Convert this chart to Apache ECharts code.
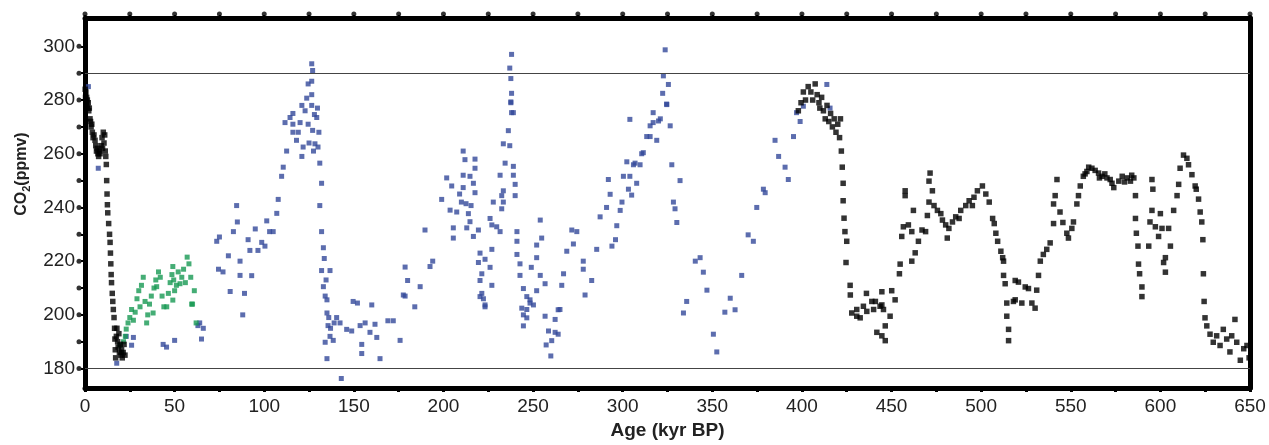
<!DOCTYPE html>
<html>
<head>
<meta charset="utf-8">
<script src="https://cdn.jsdelivr.net/npm/echarts/dist/echarts.min.js"></script>
<style>
html,body{margin:0;padding:0;background:#fff;}
#chart{width:1269px;height:445px;}
</style>
</head>
<body>
<div id="chart"></div>
<script>
// ---- data (age kyr BP, CO2 ppmv) ----
const lawDome = [[0.1,284],[0.3,281],[0.5,283],[0.7,279],[0.9,281],[1.1,278],[1.3,280],[1.5,277],[1.8,279],[2.1,276],[2.4,277],[2.8,273],[3.1,272],[3.4,270],[3.8,271],[4.1,268],[4.5,266],[5.0,267],[5.6,265],[6.0,263],[6.4,261],[6.8,262],[7.2,260],[7.6,259],[8.0,261],[8.4,260],[9.0,263],[9.5,266],[9.8,262],[10.2,268],[10.6,264],[11.0,267],[11.3,261],[11.6,259],[11.9,256],[12.1,250],[12.3,245],[12.5,241],[12.7,238],[13.2,234],[13.7,230],[14.0,227],[14.2,223],[14.4,219],[14.6,215],[14.8,212],[15.2,208],[15.5,205],[15.8,202],[16.2,199],[16.5,195],[16.7,191],[16.9,187],[17.1,184],[17.5,192],[17.8,195],[18.2,190],[18.5,188],[18.9,193],[19.2,186],[19.6,189],[20.0,185],[20.4,187],[20.8,184],[21.3,186],[21.8,189],[22.3,185]];

const greenSeries = [[19.5,188.7],[20.5,186],[21.5,190],[22.5,192],[23,194.7],[24,197],[25,199],[26,202],[27,198],[28,201],[29,206],[30,209],[30.7,203],[31.5,211],[32.5,214],[33.5,205],[34.4,197],[35,200],[36,204],[37,207],[38,200.7],[38.5,210],[39.5,213],[40,210.5],[41,216],[42,214],[43,207],[44,203],[45.6,203],[46.5,208],[47.5,212],[48.5,215],[49,218],[49.5,213],[49,205.5],[50,209],[51,211],[52,216],[53,211.6],[54,214],[55,217],[56,212],[57,221.5],[58,219],[59,214],[59.5,204],[60,204],[61,209],[62,197]];

const vostok = [[1.9,285],[7.4,254.6],[17.7,182],[23,192],[26,188.7],[27,191.6],[43.6,189],[45.5,188],[50,190.5],[63,196],[64,197],[65,191],[66,195],
[73.5,227.4],[75,229],[74.5,217],[77,216],[80,222],[81,208.7],[82.8,231],[84.6,240.7],[85,234.6],[86.5,220],[86.5,214.7],[88,200],[89,208],[91,228],[92,224],[93,214.6],[95,232],[96.5,224],[98.6,227],[100.4,225.6],[101.4,235],[103,231],[105,231],[107,237.8],[107.8,243],[109.7,251.6],[110.6,255],[112.5,261],[111.6,271.6],[114.4,273.5],[116,271],[116,268],[118,265],[120,271.6],[121,259],[121.7,262.5],[122.8,276],[124.5,271],[126.5,278],[127,268.7],[128.3,263.7],[129.3,273.5],[130,262.5],[131,256.5],[132,249],[131,240.7],[132,231],[133,225],[132,216.5],[136.7,216.5],[133,210.5],[135,205.6],
[126.5,293.5],[127,291],[126.5,287],[124.5,286],[126.5,282],[123.7,280.7],[121,278],[116,275],[128,274.6],[119,268],[125,264],[127.5,261],[129.7,277],[130.5,268],
[134,207],[135,200.7],[135.6,196],[136.7,192],[134,189.8],[138.5,190.5],[135,183.7],[140.4,199],[142.3,197],[146,194.6],[148.8,194],[149.6,205],[152,204.4],[153.5,196],[154.4,189],[154.4,185.6],[156.3,197],[159,193.5],[160,203.7],[161.8,196.5],[162.8,191.6],[164.6,183.7],[169,197.8],[172,197.8],[175.8,190.5],[178.6,207],[184,203],[143,176.3],[133.5,221],[134.5,213],[136,199],[137,195],[139,197],
[178.6,217.8],[180,212.8],[177.6,207.4],[187,210.5],[189.7,231.6],[192.5,218],[194,220],
[201.8,251],[204.6,248],[199,243],[203.7,239],[207.4,238.3],[211,261],[212,257.8],[217.6,258],[217.6,254.6],[211,252],[214.8,251.6],[211,247.4],[209,245],[210,242],[212.6,241.4],[215.4,240.7],[213.9,237.7],[214.8,234.7],[213,232.4],[205.5,232.4],[205.5,228.6],[216.7,229.2],[219.5,231.6],[217.6,245.5],[216.7,249],
[226,235.9],[227,233.5],[229.7,232.8],[231.6,231],[227.8,242],[232.5,244.4],[233.4,246.2],[231.6,252],[234.4,256.5],[233.4,263.7],[237,263],[236.2,268.6],[238,275.3],[237.6,279.3],[239,255.3],[239,252],[240,248.6],[240,244.4],[233.4,242],[232.5,239.5],
[220.4,223],[219.5,219.5],[223.2,220.7],[227,224.4],[221.4,215.3],[220.4,212.8],[227,211],[221.4,208],[222.3,206],[223.2,203.7],[226,217.7],
[241,231],[241,227.4],[241,222.5],[242.7,219],[242.7,214.7],[244.6,209.8],[249,217.7],[252,221.3],[252,226],[254.8,228.6],[254,235.3],[254,214.7],[252,209],[256.7,211.6],[246.5,206.8],[248.3,204.4],[246.5,202],
[265,202],[266,211],[267,215.3],[268.8,223.7],[272.5,226.4],[271.6,231.6],[274.4,231],[278,220],[278,217],[279,207.4],[282.7,212.8],[285.5,224.4],[287.4,236.5],[291,240],[294,225.6],[296,228],[296.7,233.2],[298.6,238.9],[299.6,242],[293,244.9],[292,250.4],[300.4,251.6],[304,251.6],[302.3,257],[306,255.9],[306.9,256.5],[309.7,255.9],[307.8,249],[303.2,246.8],[305,244.6],[310.6,260],[311.5,260.4],[313.4,266.4],[315.3,266.4],[319,265],[315.3,270.4],[317,271.6],[320,272.2],[321,273],[317,275.3],[324.5,278.5],[326.5,270.4],[304,272.8],
[327.4,255.9],[332,250],[328.3,242],[329.2,239.5],[330.2,234.4],
[238,297],[237,291.9],[237.6,288],[238,282.5],[237.6,279],[239,275.3],[323.7,298.7],[322.7,289],[325.5,285.8],[322.3,282.5],[324.6,278.3],
[220.4,206.8],[223.2,203],[243.7,202.5],[244.6,200],[246.5,198.9],[244.6,195.9],[248.3,205.6],[250.2,203.7],[256.7,199.5],[262.3,198.3],[264,201.9],[258.6,194],[262.3,193.5],[264,192.8],[260.4,190.4],[257.3,188.8],[259.9,184.7],[335.7,205],[333.9,200.7],[350.6,192.8],[352.5,186.2],[357,201],[362.7,201.9],[360,206.2],
[340.5,220],[343.2,221.3],[345,215.9],[347,209.2],[366.4,214.7],[370,229.8],[372.9,227.4],[374.8,240],[378.5,246.8],[379.5,245.5],[385,265],[387,259],[390.6,255],[392.4,250.4],[395.3,266.4],[397,275.3],[400.8,277.7],[415.7,277],[413.9,285.8],[399,272]];

const epica = [[398,276],[399.5,279],[400.8,283],[402,280],[403.5,285],[405,283],[406,280],[407.4,286],[408.5,282],[409.5,279],[410,277],[411,281],[412,276],[413,273],[414,278],[415,272],[416,275],[417,270],[418,273],[419,268],[420,271],[421,266],[421.5,273],[422,261],[422.5,255],[423,249],[423,242.5],[423.5,236],[424,231],[425,227.4],[424.6,219.5],[426.9,211],[427,207.4],
[427.8,200.7],[430.6,199.5],[430.6,202],[432.5,198.9],[434.3,203.2],[436,208],[436.2,201.3],[439,205],[440,202],[441,205],[441.8,193.5],[443.6,203.2],[444.6,208.6],[444.6,203.7],[444.6,192.2],[445.5,202],[446.5,190.4],[446.5,195.9],[449.2,199.5],[450.1,209],[452,205.6],
[454.4,215.3],[454.8,218.9],[455.7,229.2],[456.6,232.8],[457.6,244.4],[457.6,246.2],[459.4,233.5],[461.3,231],[461.3,220],[462.2,238.9],[463.2,223.1],[465,227.4],[467,231.6],[469,231],[470,237],[470.9,242],[470.9,249.8],[471.5,252.8],[472.8,246.2],[473.7,240.7],[475.6,238.9],[477.5,237.7],[478.4,235.3],[480.2,233.5],[481.1,228.6],[482,232.2],[484,234.6],[485.8,236.5],[487.7,235.9],[488.6,238.9],[491.4,240.7],[493.3,242.5],[495.1,240.7],[496,243.8],[497.9,246.2],[500.7,248],[502.6,245],[504.5,242],[506.4,235.9],[507.3,234],[508.2,230.4],[509.2,227.4],[511,223.7],[512,221.3],[512.5,220],[512.5,214.7],[513.4,211.6],[514.3,204.4],[514.3,199.5],[515.3,194.6],[515.3,190.4],[518,205],[519,212.8],[519,205.6],[520.8,212.2],[522.7,204.4],[524.6,210.4],[526.4,209.8],[528.3,204.4],[530.1,202.5],[531,209.2],[532,214.7],[533,220],[534.7,222.5],[536.6,224.4],[538.5,226.8],[540.4,234],[540.4,241.3],[541.3,244.4],[542.3,250.4],[544,238.3],[545.6,234.4],[547.8,230.4],[548.7,228.6],[550.6,232.2],[551.5,234.6],[553.4,241.3],[554.3,244.4],[555.3,248],[557,251.6],[558,252.5],[559,253.4],[560,255],[561.8,254.6],[563.6,253.8],[565.5,252.8],[566,251],[567.5,251.6],[569,252.5],[570.2,251],[572,250.4],[573,249],[574,247.4],[576.8,249.8],[578.7,251.6],[580,249.5],[581.5,251],[583.3,249.8],[584,252],[585.2,251],[586.1,244.4],[586.1,235.9],[586.6,230.4],[587.5,225.6],[587.8,218.9],[588.4,215.3],[589.7,210.4],[589.7,206.8],
[595.3,250.4],[595.8,246.8],[594.2,234.6],[595.3,238.9],[593.5,225.6],[597.2,232.8],[599,229.2],[600,237.7],[600.9,232.2],[602.8,221.3],[601.8,219.5],[602.8,215.9],[604.6,232.2],[605.6,225.6],[607.4,238.9],[609.3,244.4],[610.2,248.6],[611,254.6],[612.9,259.5],[614.8,258.3],[615.7,255.9],[617.6,252.2],[619.4,248],[620,246.8],[621.3,243.1],[622.2,238.3],[623.1,234.6],[623.7,228],[624,215.3],[624.4,205],[624.9,198.9],[625.9,195.9],[627.7,192.8],[629.5,189.8],[631.4,192.2],[633.3,188.6],[635.1,194.6],[637,191],[638.8,186.2],[639.8,192.2],[641.6,198.3],[642.6,189.8],[644.6,183.1],[646.5,187.4],[648.3,188.6],[649.5,184]];

const refLines = [290, 180];
const xTicks = [0,25,50,75,100,125,150,175,200,225,250,275,300,325,350,375,400,425,450,475,500,525,550,575,600,625,650];
const xLabels = [0,50,100,150,200,250,300,350,400,450,500,550,600,650];
const yTicks = [180,190,200,210,220,230,240,250,260,270,280,290,300];
const yLabels = [180,200,220,240,260,280,300];
const X_MIN = 0, X_MAX = 650, Y_MIN = 172.73, Y_MAX = 310.55;

// ---- chart ----
const chart = echarts.init(document.getElementById('chart'), null, {renderer:'canvas'});
const FONT = '"Liberation Sans", Arial, Helvetica, sans-serif';
const frame = {show:true, onZero:false, lineStyle:{color:'#000', width:5}};
const pointStyle = (c) => ({color:c});

chart.setOption({
  backgroundColor:'#fff',
  animation:false,
  grid:{left:85, right:19, top:18, bottom:48},
  xAxis:[{
    type:'value', min:X_MIN, max:X_MAX, position:'bottom',
    axisLine:frame,
    axisTick:{show:true, customValues:xTicks, length:4, lineStyle:{color:'#000', width:3}},
    axisLabel:{customValues:xLabels, fontSize:19, color:'#222', fontFamily:FONT, margin:9},
    splitLine:{show:false},
    name:'Age (kyr BP)', nameLocation:'middle', nameGap:29,
    nameTextStyle:{fontSize:19, fontWeight:'bold', color:'#222', fontFamily:FONT}
  },{
    type:'value', min:X_MIN, max:X_MAX, position:'top',
    axisLine:frame,
    axisTick:{show:true, customValues:xTicks, length:3, lineStyle:{color:'#000', width:2}},
    axisLabel:{show:false}, splitLine:{show:false}
  }],
  yAxis:[{
    type:'value', min:Y_MIN, max:Y_MAX, position:'left',
    axisLine:frame,
    axisTick:{show:true, customValues:yTicks, length:4, lineStyle:{color:'#000', width:2}},
    axisLabel:{customValues:yLabels, fontSize:19, color:'#222', fontFamily:FONT, margin:10},
    splitLine:{show:false},
    name:'{a|CO}{s|2}{a|(ppmv)}', nameLocation:'middle', nameGap:50, nameRotate:90,
    nameTextStyle:{
      padding:[0,0,0,58],
      rich:{
        a:{fontSize:16, fontWeight:'bold', color:'#222', fontFamily:FONT, lineHeight:22},
        s:{fontSize:11, fontWeight:'bold', color:'#222', fontFamily:FONT, lineHeight:22, verticalAlign:'bottom', padding:[6,0,0,0]}
      }
    }
  },{
    type:'value', min:Y_MIN, max:Y_MAX, position:'right',
    axisLine:frame, axisTick:{show:false}, axisLabel:{show:false}, splitLine:{show:false}
  }],
  series:[
    {type:'scatter', name:'Vostok', data:vostok, symbol:'rect', symbolSize:5,
     itemStyle:pointStyle('#33499a'), z:3},
    {type:'scatter', name:'Green', data:greenSeries, symbol:'rect', symbolSize:5,
     itemStyle:pointStyle('#169853'), z:4},
    {type:'scatter', name:'LawDome', data:lawDome, symbol:'rect', symbolSize:5.5,
     itemStyle:pointStyle('#000'), z:5},
    {type:'scatter', name:'EPICA', data:epica, symbol:'rect', symbolSize:5.5,
     itemStyle:pointStyle('#000'), z:5,
     markLine:{silent:true, symbol:'none', label:{show:false},
       lineStyle:{color:'#444', width:1.2, type:'solid'},
       data:refLines.map(v => ({yAxis:v}))}},
    // decorative dots at tick ends
    {type:'scatter', silent:true, clip:false, data:xTicks.map(t => [t, Y_MAX]),
     symbol:'circle', symbolSize:5, symbolOffset:[0,-4], itemStyle:{color:'#000'}, z:6},
    {type:'scatter', silent:true, clip:false, data:yTicks.map(v => [X_MIN, v]),
     symbol:'circle', symbolSize:5, symbolOffset:[-6,0], itemStyle:{color:'#000'}, z:6}
  ]
});
</script>
</body>
</html>
